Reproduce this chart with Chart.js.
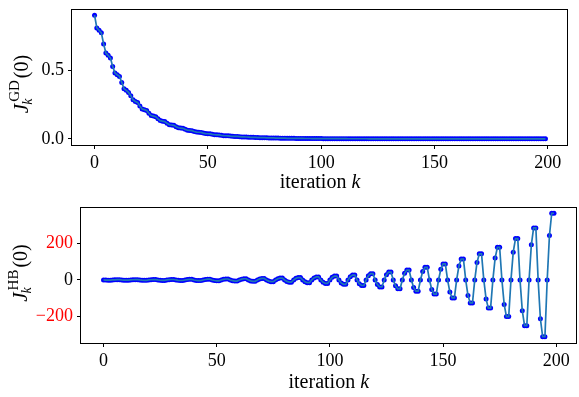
<!DOCTYPE html>
<html>
<head>
<meta charset="utf-8">
<script src="https://cdn.jsdelivr.net/npm/chart.js@4.4.1/dist/chart.umd.min.js"></script>
<style>
  html, body { margin: 0; padding: 0; background: #fff; }
  #wrap { position: relative; width: 579px; height: 397px; overflow: hidden; }
  #gdChart { position: absolute; left: 0; top: 0; }
  #hbChart { position: absolute; left: 0; top: 200px; }
</style>
</head>
<body>
<div id="wrap">
  <canvas id="gdChart" width="579" height="200"></canvas>
  <canvas id="hbChart" width="579" height="197"></canvas>
</div>
<script>
// Tick labels
const xTicks = [0, 50, 100, 150, 200];
const gdTicks = [0, 0.5];
const hbTicks = [-200, 0, 200];

// J_k^GD(0), k = 0..199
const gdValues = [
  0.903, 0.810, 0.793, 0.774, 0.693, 0.627, 0.610, 0.591,
  0.529, 0.481, 0.468, 0.456, 0.412, 0.366, 0.354, 0.339,
  0.315, 0.285, 0.273, 0.266, 0.239, 0.218, 0.213, 0.2075,
  0.187, 0.170, 0.166, 0.162, 0.146, 0.133, 0.129, 0.126,
  0.114, 0.103, 0.101, 0.0985, 0.0887, 0.0807, 0.0787, 0.0768,
  0.0691, 0.0629, 0.0614, 0.0599, 0.0539, 0.0491, 0.0479, 0.0467,
  0.0420, 0.0382, 0.0373, 0.0365, 0.0329, 0.0299, 0.0292, 0.0284,
  0.0256, 0.0233, 0.0227, 0.0222, 0.0200, 0.0182, 0.0177, 0.0173,
  0.0156, 0.0142, 0.0138, 0.0135, 0.0122, 0.0111, 0.0108, 0.0105,
  0.0095, 0.0086, 0.0084, 0.0082, 0.0074, 0.0067, 0.0066, 0.0064,
  0.0058, 0.0052, 0.0051, 0.0050, 0.0045, 0.0041, 0.0040, 0.0039,
  0.0035, 0.0032, 0.0031, 0.0030, 0.0027, 0.0025, 0.0024, 0.0024,
  0.0022, 0.0020, 0.0019, 0.0018, 0.0016, 0.0015, 0.0014, 0.0014,
  0.0013, 0.0012, 0.0011, 0.0011, 0.0010, 0.0009, 0.0009, 0.0009,
  0.0008, 0.0007, 0.0007, 0.0007, 0.0006, 0.0006, 0.0005, 0.0005,
  0.0005, 0.0004, 0.0004, 0.0004, 0.0004, 0.0003, 0.0003, 0.0003,
  0.0003, 0.0003, 0.0002, 0.0002, 0.0002, 0.0002, 0.0002, 0.0002,
  0.0002, 0.0001, 0.0001, 0.0001, 0.0001, 0.0001, 0.0001, 0.0001,
  0.0001, 0.0001, 0.0001, 0.0001, 0.0001, 0.0001, 0.0001, 0.0001,
  0.0001, 0.0001, 0.0001, 0.0001, 0.0001, 0.0001, 0.0001, 0.0001,
  0, 0, 0, 0, 0, 0, 0, 0,
  0, 0, 0, 0, 0, 0, 0, 0,
  0, 0, 0, 0, 0, 0, 0, 0,
  0, 0, 0, 0, 0, 0, 0, 0,
  0, 0, 0, 0, 0, 0, 0, 0
];

// J_k^HB(0), k = 0..199
const hbValues = [
  0, -0.7, -1.1, -1.1, 0, 0.9, 1.3, 1.3,
  0, -0.9, -1.4, -1.4, 0, 1.1, 1.6, 1.6,
  0, -1.2, -1.8, -1.8, 0, 1.3, 2.0, 2.0,
  0, -1.5, -2.3, -2.3, 0, 1.7, 2.6, 2.6,
  0, -1.9, -2.9, -2.9, 0, 2.1, 3.2, 3.2,
  0, -2.4, -3.6, -3.6, 0, 2.7, 4.1, 4.1,
  0, -3.1, -4.6, -4.6, 0, 3.5, 5.2, 5.2,
  0, -3.9, -5.8, -5.8, 0, 4.4, 6.5, 6.5,
  0, -5.0, -7.4, -7.4, 0, 5.6, 8.3, 8.3,
  0, -6.2, -9.3, -9.3, 0, 7.0, 10.5, 10.5,
  0, -7.9, -11.8, -11.8, 0, 8.9, 13.2, 13.2,
  0, -10.0, -14.9, -14.9, 0, 11.2, 16.7, 16.7,
  0, -12.6, -18.8, -18.8, 0, 14.2, 21.2, 21.2,
  0, -16.0, -23.8, -23.8, 0, 18.0, 26.8, 26.8,
  0, -20, -30, -30, 0, 23, 34, 34,
  0, -25, -38, -38, 0, 29, 43, 43,
  0, -32, -48, -48, 0, 36, 54, 54,
  0, -41, -61, -61, 0, 46, 69, 69,
  0, -52, -77, -77, 0, 58, 87, 87,
  0, -66, -98, -98, 0, 76, 114, 114,
  0, -84, -125, -125, 0, 95, 142, 142,
  0, -103, -153, -153, 0, 119, 178, 178,
  0, -133, -199, -199, 0, 151, 225, 225,
  0, -167, -249, -249, 0, 191, 283, 283,
  0, -211, -309, -309, 0, 242, 363, 363
];

const FONT = "'Liberation Serif', 'DejaVu Serif', serif";
const LINE_COLOR = '#1f77b4';
const MARKER_COLOR = '#0000ff';

function toPoints(values) {
  return values.map((v, k) => ({ x: k, y: v }));
}

function minusLabel(v) {
  return v < 0 ? '\u2212' + Math.abs(v) : String(v);
}

// Draws the full axes box and the axis titles (with sub/superscripts)
const frameAndTitles = {
  id: 'frameAndTitles',
  afterDraw(chart, args, opts) {
    const ctx = chart.ctx;
    const a = chart.chartArea;
    ctx.save();

    // box
    ctx.strokeStyle = '#000';
    ctx.lineWidth = 1;
    const l = Math.round(a.left) - 0.5, t = Math.round(a.top) + 0.5;
    const r = Math.round(a.right) - 0.5, b = Math.round(a.bottom) + 0.5;
    ctx.strokeRect(l, t, r - l, b - t);

    ctx.fillStyle = '#000';
    ctx.textBaseline = 'alphabetic';
    ctx.textAlign = 'left';

    // x title: "iteration k"
    const regular = `20px ${FONT}`;
    const italic = `italic 20px ${FONT}`;
    ctx.font = regular;
    const w1 = ctx.measureText('iteration ').width;
    ctx.font = italic;
    const w2 = ctx.measureText('k').width;
    const cx = (a.left + a.right) / 2;
    const xb = a.bottom + opts.xTitleGap;
    let x0 = cx - (w1 + w2) / 2;
    ctx.font = regular;
    ctx.fillText('iteration ', x0, xb);
    ctx.font = italic;
    ctx.fillText('k', x0 + w1, xb);

    // y title: J_k^{..}(0), rotated
    ctx.translate(opts.yTitleX, opts.yTitleY);
    ctx.rotate(-Math.PI / 2);
    const fJ = `italic 21px ${FONT}`;
    const fSup = `15px ${FONT}`;
    const fSub = `italic 14px ${FONT}`;
    const fMain = `20px ${FONT}`;
    ctx.font = fJ; const wJ = ctx.measureText('J').width;
    ctx.font = fSup; const wSup = ctx.measureText(opts.sup).width;
    ctx.font = fSub; const wSub = ctx.measureText('k').width;
    ctx.font = fMain; const wP = ctx.measureText('(0)').width;
    const wScript = Math.max(wSup + 2, wSub);
    const total = wJ + wScript + wP + 2;
    let u = -total / 2;
    ctx.font = fJ; ctx.fillText('J', u, 0);
    ctx.font = fSup; ctx.fillText(opts.sup, u + wJ + 2, -9);
    ctx.font = fSub; ctx.fillText('k', u + wJ - 1, 4);
    ctx.font = fMain; ctx.fillText('(0)', u + wJ + wScript + 2, 0);

    ctx.restore();
  }
};

function makeChart(id, values, cfg) {
  const points = toPoints(values);
  return new Chart(document.getElementById(id), {
    type: 'line',
    data: {
      datasets: [
        {
          data: points,
          borderColor: LINE_COLOR,
          borderWidth: 1.7,
          pointRadius: 0,
          pointHoverRadius: 0,
          fill: false,
          tension: 0,
          order: 0
        },
        {
          data: points,
          showLine: false,
          pointRadius: 2.5,
          pointHoverRadius: 2.5,
          pointBorderWidth: 0,
          pointBackgroundColor: MARKER_COLOR,
          backgroundColor: MARKER_COLOR,
          borderColor: MARKER_COLOR,
          order: 1
        }
      ]
    },
    options: {
      responsive: false,
      animation: false,
      devicePixelRatio: 1,
      layout: { padding: cfg.padding },
      plugins: {
        legend: { display: false },
        tooltip: { enabled: false },
        frameAndTitles: cfg.titles
      },
      scales: {
        x: {
          type: 'linear',
          min: -9.95,
          max: 208.95,
          afterBuildTicks: s => { s.ticks = xTicks.map(v => ({ value: v })); },
          afterFit: s => { s.height = cfg.xHeight; s.paddingLeft = 0; s.paddingRight = 0; },
          border: { display: false },
          grid: { drawOnChartArea: false, drawTicks: true, tickLength: 4, color: '#000', lineWidth: 1 },
          ticks: {
            font: { family: FONT, size: 18 },
            color: '#000',
            padding: 3,
            maxRotation: 0,
            autoSkip: false,
            callback: v => String(v)
          }
        },
        y: {
          type: 'linear',
          min: cfg.yMin,
          max: cfg.yMax,
          afterBuildTicks: s => { s.ticks = cfg.yTicks.map(v => ({ value: v })); },
          afterFit: s => { s.width = cfg.yWidth; s.paddingTop = 0; s.paddingBottom = 0; },
          border: { display: false },
          grid: { drawOnChartArea: false, drawTicks: true, tickLength: 4, color: '#000', lineWidth: 1 },
          ticks: {
            font: { family: FONT, size: 18 },
            color: cfg.tickColor,
            padding: 4,
            autoSkip: false,
            callback: cfg.tickLabel
          }
        }
      }
    },
    plugins: [frameAndTitles]
  });
}

makeChart('gdChart', gdValues, {
  padding: { top: 9, right: 11, bottom: 0, left: 0 },
  xHeight: 55,
  yWidth: 72,
  yMin: -0.045,
  yMax: 0.948,
  yTicks: gdTicks,
  tickColor: '#000',
  tickLabel: v => v.toFixed(1),
  titles: { sup: 'GD', xTitleGap: 43, yTitleX: 28, yTitleY: 84 }
});

makeChart('hbChart', hbValues, {
  padding: { top: 7, right: 2, bottom: 0, left: 0 },
  xHeight: 54,
  yWidth: 81,
  yMin: -343,
  yMax: 397,
  yTicks: hbTicks,
  tickColor: ctx => (ctx.tick && ctx.tick.value === 0) ? '#000' : '#ff0000',
  tickLabel: v => minusLabel(v),
  titles: { sup: 'HB', xTitleGap: 45, yTitleX: 27, yTitleY: 73 }
});
</script>
</body>
</html>
